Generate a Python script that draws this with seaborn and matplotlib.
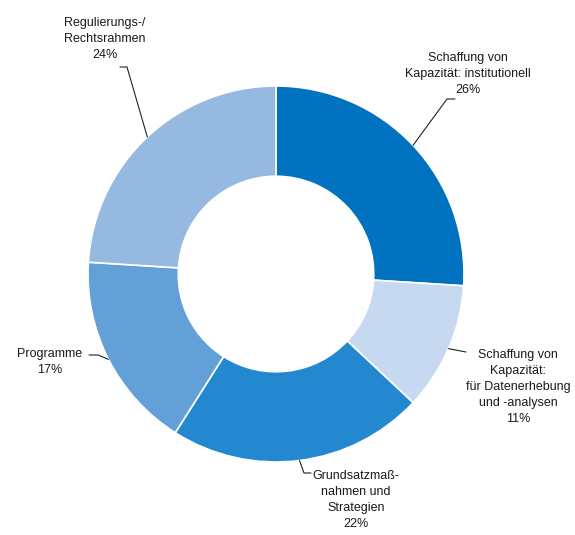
import numpy as np
import matplotlib
matplotlib.use("Agg")
import matplotlib.pyplot as plt
import seaborn as sns

labels = ["Schaffung von\nKapazität: institutionell\n26%",
          "Schaffung von\nKapazität:\nfür Datenerhebung\nund -analysen\n11%",
          "Grundsatzmaß-\nnahmen und\nStrategien\n22%",
          "Programme\n17%",
          "Regulierungs-/\nRechtsrahmen\n24%"]
values = [26, 11, 22, 17, 24]
colors = ["#0072BF", "#C6D9F0", "#2388D0", "#62A0D7", "#95B9E1"]

sns.set_theme(style="white")
plt.rcParams["font.family"] = ["Liberation Sans", "DejaVu Sans"]

W, H = 575, 535
fig = plt.figure(figsize=(W / 100, H / 100), dpi=100)
ax = fig.add_axes([0, 0, 1, 1])

cx, cy, R = 276, H - 274, 188
wedges, _ = ax.pie(values, colors=colors, startangle=90, counterclock=False,
                   center=(cx, cy), radius=R, frame=True,
                   wedgeprops=dict(width=R * 0.48, edgecolor="white", linewidth=1.2))
ax.set_xlim(0, W)
ax.set_ylim(0, H)
ax.axis("off")

def P(x, y):
    return (x, H - y)

# text centre (pixel) and leader elbows (pixel)
text_pos = [(468, 74), (518, 387), (356, 500), (50, 362), (105, 39)]
elbows = [[(447, 99), (455, 99)],
          [(466, 352)],
          [(304, 473), (311, 473)],
          [(98, 355), (89, 355)],
          [(127, 67), (120, 67)]]

for w, lab, tp, el in zip(wedges, labels, text_pos, elbows):
    ang = np.deg2rad((w.theta1 + w.theta2) / 2)
    ax_pt = (cx + R * np.cos(ang), cy + R * np.sin(ang))
    xs = [ax_pt[0]] + [P(*e)[0] for e in el]
    ys = [ax_pt[1]] + [P(*e)[1] for e in el]
    ax.plot(xs, ys, color="#222222", lw=0.8)
    ax.text(*P(*tp), lab, ha="center", va="center", fontsize=9,
            linespacing=1.45, color="#1a1a1a")

fig.savefig("out.png", dpi=100, facecolor="white")
